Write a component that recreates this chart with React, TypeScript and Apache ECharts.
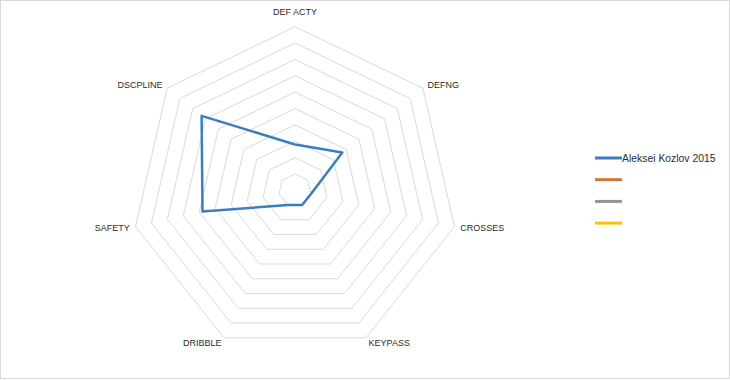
import React, { useEffect, useRef } from "react";
import * as echarts from "echarts";

// Indicator names in the reference's (clockwise) order, starting at the top
const categories = ["DEF ACTY", "DEFNG", "CROSSES", "KEYPASS", "DRIBBLE", "SAFETY", "DSCPLINE"];
const maxValue = 10;
const seriesName = "Aleksei Kozlov 2015";
const seriesValues = [2.8, 3.7, 1, 1, 1, 5.8, 7.3];
const emptyNames = [" ", "  ", "   "];
const colors = ["#3C7DBE", "#CF7630", "#959595", "#FFC000"];

export default function App() {
  const ref = useRef<HTMLDivElement>(null);

  useEffect(() => {
    if (!ref.current) return;
    const chart = echarts.init(ref.current, undefined, { renderer: "svg" });

    // ECharts lays indicators counter-clockwise; reverse all but the first to get clockwise order
    const order = [0, ...categories.map((_, i) => i).slice(1).reverse()];
    const indicator = order.map((i) => ({ name: categories[i], max: maxValue, min: 0 }));
    const mainValues = order.map((i) => seriesValues[i]);

    const data: any[] = [
      {
        name: seriesName,
        value: mainValues,
        itemStyle: { color: colors[0] },
        lineStyle: { color: colors[0], width: 2.5 },
      },
      ...emptyNames.map((n, k) => ({
        name: n,
        value: [],
        itemStyle: { color: colors[k + 1] },
        lineStyle: { color: colors[k + 1], width: 0, opacity: 0 },
      })),
    ];

    const textColor = "#2b2b2b";

    chart.setOption({
      animation: false,
      backgroundColor: "#ffffff",
      legend: {
        orient: "vertical",
        left: 590,
        top: 147,
        icon: "rect",
        itemWidth: 27,
        itemHeight: 3,
        itemGap: 9.7,
        data: [seriesName, ...emptyNames],
        textStyle: {
          fontFamily: "Liberation Sans",
          fontSize: 10.4,
          color: textColor,
          lineHeight: 12,
          padding: [0, 0, 0, -5],
        },
      },
      radar: {
        center: [295, 190.3],
        radius: 163.6,
        splitNumber: 10,
        shape: "polygon",
        indicator,
        axisName: {
          color: textColor,
          fontFamily: "Liberation Sans",
          fontSize: 9,
          formatter: (name: string) => (name === categories[0] ? `{top|${name}}` : name),
          rich: {
            top: {
              color: textColor,
              fontFamily: "Liberation Sans",
              fontSize: 9,
              padding: [0, 0, 4, 0],
            },
          },
        },
        nameGap: 6,
        axisLine: { show: false },
        axisTick: { show: false },
        axisLabel: { show: false },
        splitArea: { show: false },
        splitLine: { lineStyle: { color: "#d9d9d9", width: 1 } },
      },
      series: [
        {
          type: "radar",
          symbol: "none",
          data,
        },
      ],
    });

    return () => chart.dispose();
  }, []);

  return (
    <>
      <div
        ref={ref}
        style={{ position: "fixed", left: 0, top: 0, width: 730, height: 380 }}
      />
      <div
        style={{
          position: "fixed",
          left: 0,
          top: 0,
          width: 730,
          height: 379,
          boxSizing: "border-box",
          border: "1px solid #d9d9d9",
          pointerEvents: "none",
        }}
      />
    </>
  );
}
